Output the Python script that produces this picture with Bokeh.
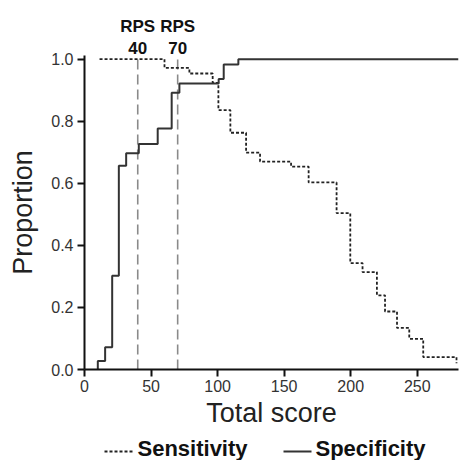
from bokeh.plotting import figure
from bokeh.layouts import column
from bokeh.models import (Range1d, LinearAxis, FixedTicker,
                          PrintfTickFormatter)
from bokeh.core.properties import value
from bokeh.embed import file_html
from bokeh.resources import INLINE

# Sensitivity step curve (step "after": value holds from x[i] to x[i+1])
sens_x = [11.3, 60.1, 78.8, 96.3, 100.6, 109.6, 121.4, 131.9, 155.2, 168.4,
          189.4, 199.7, 208.9, 219.7, 225.8, 234.8, 244.0, 254.5, 279.5]
sens_y = [1.0, 0.972, 0.954, 0.924, 0.836, 0.763, 0.699, 0.670, 0.654, 0.603,
          0.504, 0.343, 0.314, 0.239, 0.187, 0.134, 0.099, 0.040, 0.02]

# Specificity step curve
spec_x = [10.0, 10.0, 15.5, 20.8, 25.8, 31.3, 40.8, 55.0, 65.5, 71.3,
          100.8, 104.6, 115.6, 281.0]
spec_y = [0.0, 0.027, 0.072, 0.302, 0.657, 0.697, 0.727, 0.777, 0.892, 0.922,
          0.936, 0.983, 1.0, 1.0]

# RPS cut-offs
rps_x = [40, 70]
rps_name = "RPS"

x_ticks = [0, 50, 100, 150, 200, 250]
y_ticks = [0.0, 0.2, 0.4, 0.6, 0.8, 1.0]

legend_labels = ["Sensitivity", "Specificity"]

FONT = "Liberation Sans"
W = 459
FRAME_L, FRAME_R = 84, 458

p = figure(width=W, height=430, output_backend="svg", toolbar_location=None,
           x_range=Range1d(0, 281), y_range=Range1d(0, 1.012),
           min_border_left=FRAME_L, min_border_right=W - FRAME_R,
           min_border_top=55, min_border_bottom=60)
p.outline_line_color = None
p.xgrid.visible = False
p.ygrid.visible = False

# RPS dashed lines
p.segment(x0=rps_x, y0=[0] * len(rps_x), x1=rps_x, y1=[1.0] * len(rps_x),
          line_color="#8a8a8a", line_width=1.6, line_dash="10 5")

sens_style = dict(line_color="#222222", line_width=1.8, line_dash="3 2")
spec_style = dict(line_color="#333333", line_width=2)
p.step(sens_x, sens_y, mode="after", **sens_style)
p.step(spec_x, spec_y, mode="after", **spec_style)

for ax in (p.xaxis[0], p.yaxis[0]):
    ax.axis_line_width = 2
    ax.axis_line_color = "#111111"
    ax.major_tick_line_width = 2
    ax.major_tick_line_color = "#111111"
    ax.major_tick_out = 7
    ax.major_tick_in = 0
    ax.minor_tick_out = 0
    ax.minor_tick_in = 0
    ax.major_label_text_font = FONT
    ax.major_label_text_font_size = "16px"
    ax.major_label_text_color = "#333333"
    ax.axis_label_text_font = FONT
    ax.axis_label_text_font_size = "27px"
    ax.axis_label_text_font_style = "normal"
    ax.axis_label_text_color = "#222222"

p.xaxis.ticker = x_ticks
p.yaxis.ticker = y_ticks
p.yaxis.formatter = PrintfTickFormatter(format="%.1f")
p.xaxis.axis_label = "Total score"
p.yaxis.axis_label = "Proportion"
p.xaxis.major_label_standoff = 3
p.yaxis.major_label_standoff = 4
p.xaxis.axis_label_standoff = 3
p.yaxis.axis_label_standoff = 10

# RPS labels as label-only axes above the frame (numbers nearest the frame)
ax_num = LinearAxis(ticker=FixedTicker(ticks=rps_x),
                    major_label_overrides={v: str(v) for v in rps_x})
ax_name = LinearAxis(ticker=FixedTicker(ticks=rps_x),
                     major_label_overrides={v: rps_name for v in rps_x})
for ax, so in ((ax_num, 2), (ax_name, 3)):
    ax.axis_line_color = None
    ax.major_tick_line_color = None
    ax.minor_tick_line_color = None
    ax.major_tick_out = 0
    ax.major_tick_in = 0
    ax.minor_tick_out = 0
    ax.minor_tick_in = 0
    ax.major_label_standoff = so
    ax.major_label_text_font = FONT
    ax.major_label_text_font_style = "bold"
    ax.major_label_text_font_size = "17px"
    ax.major_label_text_color = "#111111"
    p.add_layout(ax, "above")

# Legend strip beneath the chart (coordinates are screen pixels; the
# column aligns this strip's frame with the chart frame)
leg = figure(width=W, height=30, output_backend="svg", toolbar_location=None,
             x_range=Range1d(FRAME_L, FRAME_R), y_range=Range1d(460, 430),
             min_border_left=FRAME_L, min_border_right=W - FRAME_R,
             min_border_top=0, min_border_bottom=0,
             x_axis_type=None, y_axis_type=None)
leg.outline_line_color = None
leg.xgrid.visible = False
leg.ygrid.visible = False
leg.segment(x0=[104], y0=[451], x1=[133], y1=[451], **sens_style)
leg.segment(x0=[283], y0=[451], x1=[311], y1=[451], **spec_style)
leg.text(x=[137, 315], y=[448, 448], text=legend_labels,
         text_font=value(FONT), text_font_style="bold",
         text_font_size="22px", text_color="#111111",
         text_baseline="middle", text_align="left")

layout = column(p, leg, spacing=0)
open("out.html", "w").write(file_html(layout, INLINE))
